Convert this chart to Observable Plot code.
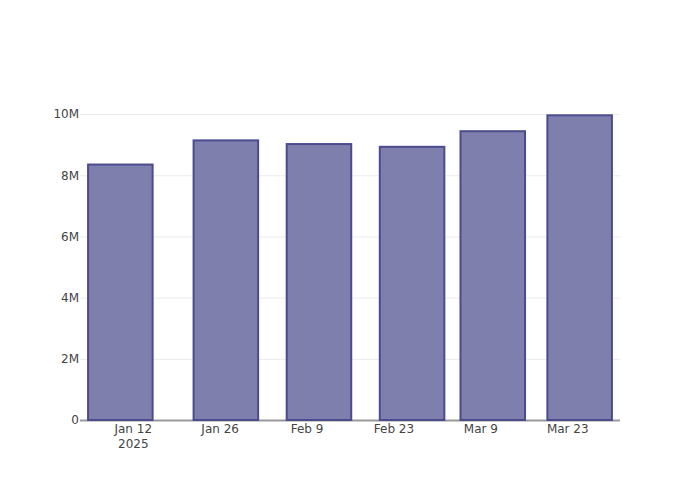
<!DOCTYPE html>
<html><head><meta charset="utf-8">
<script src="https://cdn.jsdelivr.net/npm/d3@7"></script>
<script src="https://cdn.jsdelivr.net/npm/@observablehq/plot@0.6"></script>
<style>
  html,body{margin:0;padding:0;background:#fff;}
  #chart svg{display:block;}
</style>
</head><body><div id="chart"></div>
<script>
const dates = ["2025-01-10", "2025-01-27", "2025-02-11", "2025-02-26", "2025-03-11", "2025-03-25"];
const values = [8.35e6, 9.14e6, 9.02e6, 8.93e6, 9.44e6, 9.96e6];
const xTickDates = ["2025-01-12", "2025-01-26", "2025-02-09", "2025-02-23", "2025-03-09", "2025-03-23"];
const yTicks = [0, 2e6, 4e6, 6e6, 8e6, 10e6];
const xDomain = ["2025-01-03T12:00Z", "2025-03-31T12:00Z"];
const yDomain = [0, 10.46e6];
const barWidthDays = 10.4;

const DAY = 864e5;
const half = barWidthDays / 2 * DAY;
const data = dates.map((d, i) => ({date: new Date(d), value: values[i]}));
const xTicks = xTickDates.map(d => new Date(d));
const fmt = d3.utcFormat("%b %-d");

const chart = Plot.plot({
  width: 700,
  height: 500,
  marginTop: 100,
  marginBottom: 80,
  marginLeft: 80,
  marginRight: 80,
  style: {fontFamily: "'DejaVu Sans', sans-serif", fontSize: "12px", color: "#444", background: "#fff"},
  x: {type: "utc", domain: xDomain.map(d => new Date(d))},
  y: {domain: yDomain},
  marks: [
    Plot.gridY(yTicks.filter(v => v > 0), {stroke: "#ebebeb", strokeOpacity: 1, strokeWidth: 1}),
    Plot.ruleY([0], {stroke: "#999", strokeWidth: 2}),
    Plot.rectY(data, {
      x1: d => new Date(+d.date - half),
      x2: d => new Date(+d.date + half),
      y1: 0,
      y2: "value",
      fill: "#7f7fae",
      stroke: "#4b4b8e",
      strokeWidth: 2,
      inset: 0
    }),
    Plot.axisY(yTicks, {
      tickSize: 0, tickPadding: 1.5, fill: "#444", fontSize: 12,
      tickFormat: d => d === 0 ? "0" : (d / 1e6) + "M",
      label: null
    }),
    Plot.axisX(xTicks, {
      tickSize: 0, tickPadding: 2, fill: "#444", fontSize: 12, lineHeight: 1.25,
      tickFormat: (d, i) => i === 0 ? fmt(d) + "\n2025" : fmt(d),
      label: null
    })
  ]
});
document.getElementById("chart").appendChild(chart);
</script>
</body></html>
